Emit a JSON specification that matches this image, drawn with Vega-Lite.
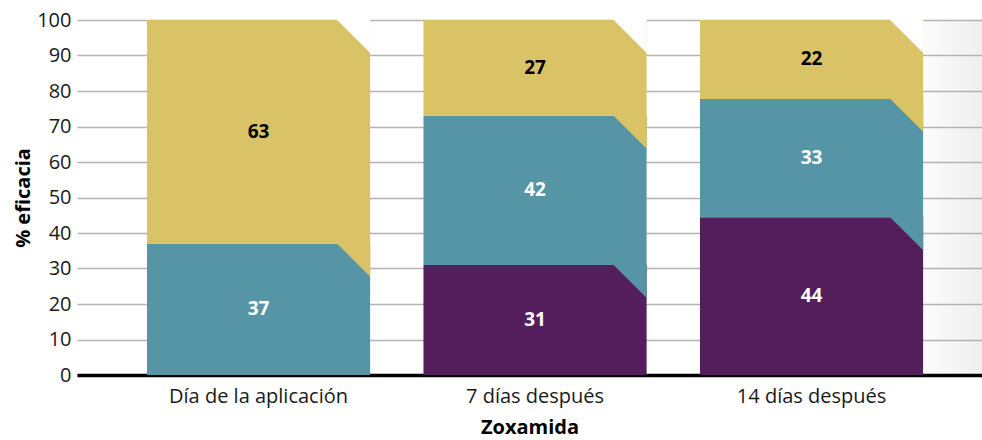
{
  "$schema": "https://vega.github.io/schema/vega-lite/v6.json",
  "width": 905,
  "height": 355,
  "autosize": "none",
  "padding": {"left": 77, "top": 20, "right": 0, "bottom": 65},
  "background": "white",
  "config": {
    "view": {
      "stroke": null,
      "fill": {
        "gradient": "linear",
        "x1": 0, "x2": 1, "y1": 0, "y2": 0,
        "stops": [
          {"offset": 0, "color": "#ffffff"},
          {"offset": 0.92, "color": "#ffffff"},
          {"offset": 1, "color": "#efefef"}
        ]
      }
    },
    "font": "Open Sans"
  },
  "data": {
    "values": [
      {"momento": "Día de la aplicación", "serie": "Nivel 2", "valor": 37, "orden": 2},
      {"momento": "Día de la aplicación", "serie": "Nivel 3", "valor": 63, "orden": 3},
      {"momento": "7 días después", "serie": "Nivel 1", "valor": 31, "orden": 1},
      {"momento": "7 días después", "serie": "Nivel 2", "valor": 42, "orden": 2},
      {"momento": "7 días después", "serie": "Nivel 3", "valor": 27, "orden": 3},
      {"momento": "14 días después", "serie": "Nivel 1", "valor": 44, "orden": 1},
      {"momento": "14 días después", "serie": "Nivel 2", "valor": 33, "orden": 2},
      {"momento": "14 días después", "serie": "Nivel 3", "valor": 22, "orden": 3}
    ]
  },
  "transform": [
    {"stack": "valor", "groupby": ["momento"], "sort": [{"field": "orden"}], "offset": "normalize", "as": ["y0", "y1"]},
    {"window": [{"op": "lead", "field": "serie", "as": "siguiente"}], "groupby": ["momento"], "sort": [{"field": "orden"}]},
    {"calculate": "datum.siguiente ? datum.siguiente : 'fondo'", "as": "arriba"},
    {"calculate": "(datum.y0 + datum.y1) / 2", "as": "ymid"}
  ],
  "encoding": {
    "x": {
      "field": "momento",
      "type": "nominal",
      "sort": ["Día de la aplicación", "7 días después", "14 días después"],
      "scale": {"paddingInner": 0.193, "paddingOuter": 0.233, "align": 0.543},
      "axis": {
        "labelAngle": 0,
        "labelFontSize": 20,
        "labelColor": "#1a1a1a",
        "labelPadding": 11,
        "ticks": false,
        "domainColor": "#000000",
        "domainWidth": 3.5,
        "title": "Zoxamida",
        "titleFontSize": 20,
        "titleFontWeight": "bold",
        "titleColor": "#000000",
        "titlePadding": 11
      }
    },
    "y": {
      "field": "y1",
      "type": "quantitative",
      "scale": {"domain": [0, 1], "nice": false},
      "axis": {
        "values": [0, 0.1, 0.2, 0.3, 0.4, 0.5, 0.6, 0.7, 0.8, 0.9, 1],
        "labelExpr": "format(datum.value * 100, '.0f')",
        "grid": true,
        "gridColor": "#b3b3b3",
        "gridWidth": 1.5,
        "domain": false,
        "ticks": false,
        "labelFontSize": 20,
        "labelColor": "#1a1a1a",
        "labelPadding": 6,
        "title": "% eficacia",
        "titleFontSize": 20,
        "titleFontWeight": "bold",
        "titleColor": "#000000",
        "titlePadding": 3
      }
    }
  },
  "layer": [
    {
      "mark": {"type": "bar", "strokeWidth": 0},
      "encoding": {
        "y2": {"field": "y0"},
        "color": {
          "field": "serie",
          "type": "nominal",
          "scale": {
            "domain": ["Nivel 1", "Nivel 2", "Nivel 3", "fondo"],
            "range": ["#541d5b", "#5695a6", "#d9c366", "#ffffff"]
          },
          "legend": null
        }
      }
    },
    {
      "mark": {
        "type": "point",
        "shape": "M2.282,-0.03 L3.285,-0.03 L3.285,0.97 Z",
        "size": 4624,
        "filled": true,
        "opacity": 1,
        "strokeWidth": 0
      },
      "encoding": {
        "color": {"field": "arriba", "type": "nominal", "legend": null}
      }
    },
    {
      "mark": {"type": "text", "fontSize": 19, "fontWeight": "bold", "baseline": "middle", "align": "center"},
      "encoding": {
        "y": {
          "field": "ymid",
          "type": "quantitative",
          "axis": {
            "values": [0, 0.1, 0.2, 0.3, 0.4, 0.5, 0.6, 0.7, 0.8, 0.9, 1],
            "labelExpr": "format(datum.value * 100, '.0f')",
            "grid": true,
            "gridColor": "#b3b3b3",
            "gridWidth": 1.5,
            "domain": false,
            "ticks": false,
            "labelFontSize": 20,
            "labelColor": "#1a1a1a",
            "labelPadding": 6,
            "title": "% eficacia",
            "titleFontSize": 20,
            "titleFontWeight": "bold",
            "titleColor": "#000000",
            "titlePadding": 3
          }
        },
        "text": {"field": "valor", "type": "quantitative"},
        "color": {
          "condition": {"test": "datum.serie === 'Nivel 3'", "value": "#000000"},
          "value": "#ffffff"
        }
      }
    }
  ]
}
